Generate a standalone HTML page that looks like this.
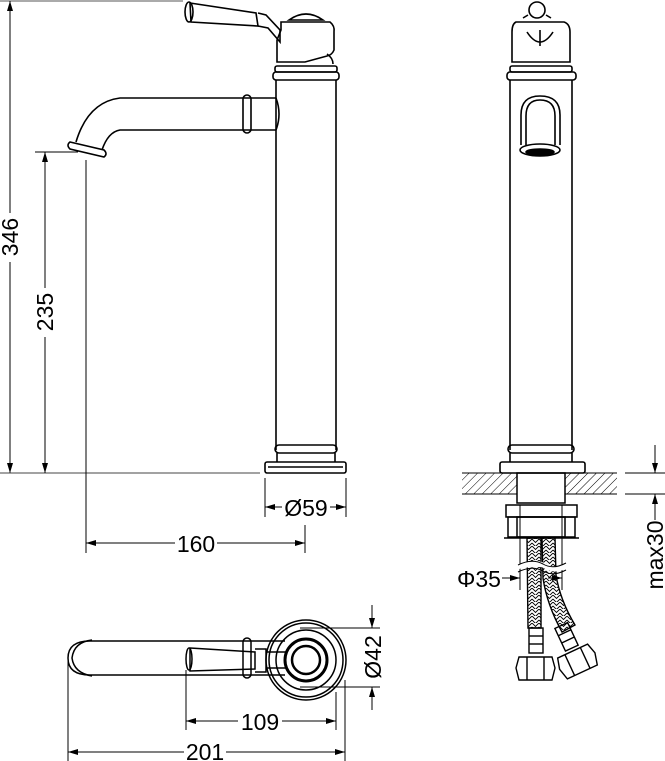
<!DOCTYPE html>
<html><head><meta charset="utf-8"><style>
html,body{margin:0;padding:0;background:#fff;}
svg{display:block;}
text{font-family:"Liberation Sans",sans-serif;font-size:23px;fill:#000;}
</style></head><body>
<svg width="665" height="761" viewBox="0 0 665 761" xmlns="http://www.w3.org/2000/svg">
<defs>
<marker id="a" viewBox="0 0 10 6" refX="10" refY="3" markerWidth="10" markerHeight="6" orient="auto-start-reverse" markerUnits="userSpaceOnUse"><path d="M0,0L10,3L0,6z" fill="#000"/></marker>
<pattern id="h" width="6" height="6" patternUnits="userSpaceOnUse" patternTransform="rotate(45)"><line x1="0" y1="0" x2="0" y2="6" stroke="#000" stroke-width="1"/></pattern>
<pattern id="br" width="7" height="7" patternUnits="userSpaceOnUse"><path d="M0,0L3.5,3.5L7,0M0,4L3.5,7.5L7,4" fill="none" stroke="#000" stroke-width="0.9"/></pattern>
</defs>
<g fill="none" stroke="#000" stroke-width="1">
<line x1="0" y1="1" x2="183" y2="1" stroke="#555"/>
<line x1="10" y1="1" x2="10" y2="213" marker-start="url(#a)"/>
<line x1="10" y1="262" x2="10" y2="473" marker-end="url(#a)"/>
<line x1="0" y1="473" x2="260" y2="473" stroke="#444"/>
<line x1="35" y1="152" x2="78" y2="152"/>
<line x1="45" y1="152" x2="45" y2="288" marker-start="url(#a)"/>
<line x1="45" y1="337" x2="45" y2="473" marker-end="url(#a)"/>
<line x1="86" y1="160" x2="86" y2="553"/>
<line x1="305" y1="525" x2="305" y2="553"/>
<line x1="86" y1="543" x2="175" y2="543" marker-start="url(#a)"/>
<line x1="217" y1="543" x2="305" y2="543" marker-end="url(#a)"/>
<line x1="265" y1="478" x2="265" y2="517"/>
<line x1="346" y1="478" x2="346" y2="517"/>
<line x1="265" y1="507" x2="282" y2="507" marker-start="url(#a)"/>
<line x1="330" y1="507" x2="346" y2="507" marker-end="url(#a)"/>
<g stroke-width="1.6">
<path d="M190,3 L256,13 L258,26 L191,22 Z"/>
<ellipse cx="189" cy="12" rx="4" ry="10"/>
<path d="M258,13 L266,15 L280,30 L280,42 L268,28 L258,26"/>
<path d="M289,20 Q306,8 323,20 Z"/>
<path d="M281,22 L330,22 Q335,26 334,32 L334,50 Q332,55 327,56 L305,62 L277,62 L277,40 L281,30 Z"/>
<path d="M327,54 Q333,58 333,64"/>
<rect x="275" y="66" width="62" height="6" rx="2"/>
<rect x="273" y="72" width="66" height="8" rx="3"/>
<line x1="276" y1="80" x2="276" y2="450"/>
<line x1="336" y1="80" x2="336" y2="450"/>
<path d="M276,98 L120,98 Q88,102 76,142"/>
<path d="M276,130 L120,130 Q108,132 102,150"/>
<path d="M276,98 Q282,114 276,130"/>
<rect x="243" y="95" width="8" height="38" rx="4"/>
<path d="M70,142 L104,150 Q108,154 104,157 L70,149 Q66,145 70,142 Z"/>
<rect x="275" y="445" width="62" height="8" rx="4"/>
<line x1="277" y1="453" x2="277" y2="462"/><line x1="335" y1="453" x2="335" y2="462"/>
<rect x="265" y="462" width="81" height="11" rx="2"/>
<line x1="268" y1="467" x2="343" y2="467"/>
</g>
<g stroke-width="1.6">
<circle cx="537" cy="10" r="8"/>
<path d="M528,15 L523,18 M546,15 L551,18"/>
<path d="M527,32 Q540,52 553,32"/>
<line x1="540" y1="30" x2="540" y2="46"/>
<path d="M516,22 L564,22 Q570,24 570,32 L570,62 L512,62 L512,32 Q512,24 516,22 Z"/>
<rect x="510" y="66" width="62" height="6" rx="2"/>
<rect x="507" y="72" width="69" height="8" rx="3"/>
<line x1="510" y1="80" x2="510" y2="450"/>
<line x1="572" y1="80" x2="572" y2="450"/>
<path d="M521,145 L521,115 Q521,96 540,96 Q560,96 560,115 L560,145"/>
<path d="M526,145 L526,116 Q526,100 540,100 Q555,100 555,116 L555,145"/>
<ellipse cx="540" cy="150" rx="20" ry="6"/>
<ellipse cx="540" cy="152" rx="14" ry="3" fill="#000"/>
<rect x="508" y="445" width="66" height="8" rx="4"/>
<line x1="510" y1="453" x2="510" y2="462"/><line x1="572" y1="453" x2="572" y2="462"/>
<rect x="500" y="462" width="85" height="11" rx="2"/>
</g>
<rect x="462" y="473" width="55" height="21" fill="url(#h)" stroke="none"/>
<rect x="565" y="473" width="52" height="21" fill="url(#h)" stroke="none"/>
<line x1="462" y1="473" x2="617" y2="473"/><line x1="462" y1="494" x2="517" y2="494"/><line x1="565" y1="494" x2="617" y2="494"/>
<g stroke-width="1.5">
<rect x="517" y="473" width="48" height="30"/>
<rect x="506" y="505" width="71" height="12"/>
<rect x="508" y="517" width="67" height="20"/>
<rect x="517" y="517" width="48" height="20"/>
<line x1="504" y1="538" x2="579" y2="538"/>
</g>
<line x1="520" y1="505" x2="520" y2="590"/><line x1="562" y1="505" x2="562" y2="590"/>
<path d="M527,538 L541,538 L541,628 L528,628 Z" fill="url(#br)" stroke-width="1.4"/>
<path d="M542,538 L555,538 L556,575 Q560,600 575,625 L562,632 Q547,605 543,578 Z" fill="url(#br)" stroke-width="1.4"/>
<path d="M515,568 Q535,560 545,566 Q555,572 565,566" fill="#fff" stroke="#fff" stroke-width="5"/>
<path d="M518,565 Q532,558 543,564 Q553,570 566,563"/>
<path d="M518,572 Q532,565 543,571 Q553,577 566,570"/>
<g stroke-width="1.4">
<rect x="529" y="628" width="14" height="25"/>
<line x1="529" y1="636" x2="543" y2="636"/><line x1="529" y1="644" x2="543" y2="644"/>
<path d="M519,657 L552,657 L555,668 L552,680 L519,680 L516,668 Z"/>
<line x1="527" y1="657" x2="527" y2="680"/><line x1="544" y1="657" x2="544" y2="680"/>
<g transform="rotate(-25 568 640)">
<rect x="561" y="624" width="14" height="25"/>
<line x1="561" y1="632" x2="575" y2="632"/><line x1="561" y1="640" x2="575" y2="640"/>
<path d="M551,652 L584,652 L587,663 L584,675 L551,675 L548,663 Z"/>
<line x1="559" y1="652" x2="559" y2="675"/><line x1="576" y1="652" x2="576" y2="675"/>
</g>
</g>
<line x1="502" y1="578" x2="520" y2="578" marker-end="url(#a)"/>
<line x1="562" y1="578" x2="548" y2="578" marker-start="url(#a)"/>
<line x1="625" y1="473" x2="665" y2="473"/>
<line x1="625" y1="494" x2="665" y2="494"/>
<line x1="655" y1="445" x2="655" y2="473" marker-end="url(#a)"/>
<line x1="655" y1="520" x2="655" y2="494" marker-end="url(#a)"/>
<g stroke-width="1.5">
<path d="M285,641 L90,641 Q68,641 68,658 Q68,675 90,675 L285,675"/>
<path d="M92,640 Q74,642 72,658 Q74,673 92,676"/>
<rect x="243" y="638" width="8" height="40" rx="4"/>
<path d="M190,648 L255,652 L255,669 L190,671 Z"/>
<ellipse cx="189" cy="659" rx="3" ry="11"/>
<path d="M255,649 L266,649 L266,672 L255,672"/>
<path d="M266,652 L286,652 M266,668 L286,668"/>
<circle cx="306" cy="660" r="40"/>
<circle cx="306" cy="660" r="37"/>
<circle cx="306" cy="660" r="30"/>
<circle cx="306" cy="660" r="21" stroke-width="3"/>
<circle cx="306" cy="660" r="14" stroke-width="2.5"/>
</g>
<line x1="186" y1="670" x2="186" y2="730"/>
<line x1="336" y1="692" x2="336" y2="730"/>
<line x1="68" y1="660" x2="68" y2="761"/>
<line x1="345" y1="680" x2="345" y2="761"/>
<line x1="186" y1="721" x2="238" y2="721" marker-start="url(#a)"/>
<line x1="282" y1="721" x2="336" y2="721" marker-end="url(#a)"/>
<line x1="68" y1="752" x2="184" y2="752" marker-start="url(#a)"/>
<line x1="226" y1="752" x2="345" y2="752" marker-end="url(#a)"/>
<line x1="300" y1="628" x2="380" y2="628"/>
<line x1="300" y1="687" x2="380" y2="687"/>
<line x1="372" y1="605" x2="372" y2="628" marker-end="url(#a)"/>
<line x1="372" y1="710" x2="372" y2="687" marker-end="url(#a)"/>
</g>
<text transform="translate(18,237) rotate(-90)" text-anchor="middle">346</text>
<text transform="translate(53,312) rotate(-90)" text-anchor="middle">235</text>
<text x="196" y="552" text-anchor="middle">160</text>
<text x="306" y="516" text-anchor="middle">Ø59</text>
<text x="479" y="587" text-anchor="middle">Φ35</text>
<text transform="translate(663,555) rotate(-90)" text-anchor="middle">max30</text>
<text transform="translate(381,657) rotate(-90)" text-anchor="middle">Ø42</text>
<text x="260" y="730" text-anchor="middle">109</text>
<text x="205" y="760" text-anchor="middle">201</text>
</svg>
</body></html>
